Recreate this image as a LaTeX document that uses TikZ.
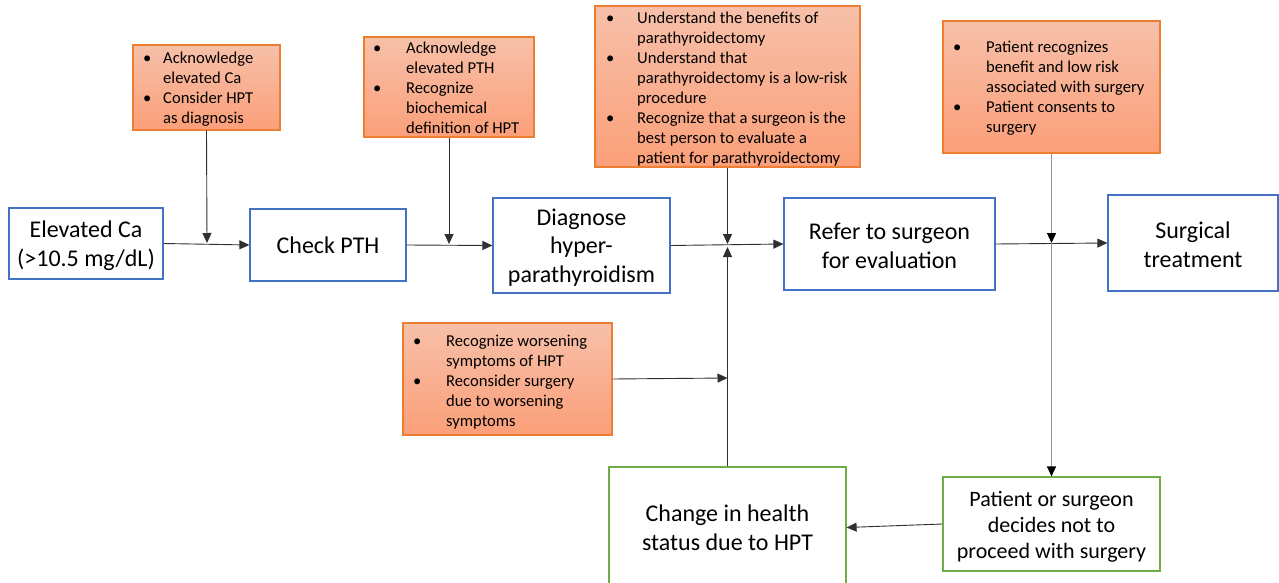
\documentclass[tikz,border=0pt]{standalone}
\usepackage{fontspec}
\setmainfont{Carlito}
\usetikzlibrary{arrows.meta}
\definecolor{bbox}{HTML}{4472C4}
\definecolor{gbox}{HTML}{70AD47}
\definecolor{obox}{HTML}{ED7D31}
\definecolor{otop}{HTML}{F7C0A9}
\definecolor{obot}{HTML}{FB9F79}
\definecolor{ln}{HTML}{303030}
\definecolor{lng}{HTML}{959595}
\tikzset{
  bluebox/.style={draw=bbox, line width=1.2pt, fill=white, inner sep=0pt},
  greenbox/.style={draw=gbox, line width=1.2pt, fill=white, inner sep=0pt},
  btext/.style={inner sep=0pt, align=center, font=\fontsize{24}{28.5}\selectfont},
  orangebox/.style={draw=obox, line width=1.2pt, top color=otop, bottom color=obot, inner sep=0pt},
  otext/.style={anchor=north west, inner sep=0pt, font=\fontsize{16.6}{20.1}\selectfont},
  arr/.style={draw=ln, line width=0.9pt, -{Triangle[length=10pt,width=9pt]}},
  arrg/.style={draw=lng, line width=1.4pt, -{Triangle[length=10pt,width=9pt,color=black]}},
}
\begin{document}
\begin{tikzpicture}[x=1pt,y=-1pt]
\fill[white] (0,0) rectangle (1279,583);
\useasboundingbox (0,0) rectangle (1279,583);

% orange boxes
\node[orangebox, minimum width=147pt, minimum height=85pt] (o1) at (206.5,87.5) {};
\node[otext] (o1t) at (143,48.9) {\begin{tabular}{@{}p{20pt}@{}l@{}}
• & Acknowledge\\ & elevated Ca\\ • & Consider HPT\\ & as diagnosis\end{tabular}};

\node[orangebox, minimum width=170pt, minimum height=100pt] (o2) at (449,87) {};
\node[otext] (o2t) at (373,38.9) {\begin{tabular}{@{}p{33pt}@{}l@{}}
• & Acknowledge\\ & elevated PTH\\ • & Recognize\\ & biochemical\\ & definition of HPT\end{tabular}};

\node[orangebox, minimum width=265pt, minimum height=161pt] (o3) at (727.5,86.5) {};
\node[otext] (o3t) at (606,8.9) {\begin{tabular}{@{}p{31pt}@{}l@{}}
• & Understand the benefits of\\ & parathyroidectomy\\ • & Understand that\\ & parathyroidectomy is a low-risk\\ & procedure\\ • & Recognize that a surgeon is the\\ & best person to evaluate a\\ & patient for parathyroidectomy\end{tabular}};

\node[orangebox, minimum width=217pt, minimum height=132pt] (o4) at (1051.5,87) {};
\node[otext] (o4t) at (953,37.9) {\begin{tabular}{@{}p{33pt}@{}l@{}}
• & Patient recognizes\\ & benefit and low risk\\ & associated with surgery\\ • & Patient consents to\\ & surgery\end{tabular}};

\node[orangebox, minimum width=209pt, minimum height=112pt] (o5) at (507.5,379) {};
\node[otext] (o5t) at (413,331.9) {\begin{tabular}{@{}p{33pt}@{}l@{}}
• & Recognize worsening\\ & symptoms of HPT\\ • & Reconsider surgery\\ & due to worsening\\ & symptoms\end{tabular}};

% blue boxes
\node[bluebox, minimum width=154pt, minimum height=71pt] (ca) at (86,243.5) {};
\node[btext] (cat) at (86,245.5) {Elevated Ca\\(>10.5 mg/dL)};
\node[bluebox, minimum width=156pt, minimum height=72pt] (pth) at (328,245) {};
\node[btext] (ptht) at (328,245) {Check PTH};
\node[bluebox, minimum width=177pt, minimum height=95pt] (dx) at (581.5,245.5) {};
\node[btext] (dxt) at (581.5,247.5) {Diagnose\\hyper-\\parathyroidism};
\node[bluebox, minimum width=211pt, minimum height=92pt] (ref) at (889.5,244) {};
\node[btext] (reft) at (889.5,246) {Refer to surgeon\\for evaluation};
\node[bluebox, minimum width=170pt, minimum height=96pt] (surg) at (1193,243) {};
\node[btext] (surgt) at (1193,245) {Surgical\\treatment};

% green boxes
\node[greenbox, minimum width=237pt, minimum height=121pt] (ch) at (727.5,527.5) {};
\node[btext, font=\fontsize{24}{29}\selectfont] (cht) at (727.5,527.5) {Change in health\\status due to HPT};
\node[greenbox, minimum width=217pt, minimum height=94pt] (pat) at (1051.5,524) {};
\node[btext, font=\fontsize{22}{26}\selectfont] (patt) at (1051.5,527) {Patient or surgeon\\decides not to\\proceed with surgery};

% junction points
\coordinate (j1) at (207,243);
\coordinate (j2) at (449,244);
\coordinate (j3) at (727.5,244);
\coordinate (j3b) at (727.5,247);
\coordinate (j5) at (727.5,378);
\coordinate (j4) at (1051.5,243);

% connectors
\draw[arr] (ca.east) -- (pth.west);
\draw[arr] (o1.south) -- (j1);
\draw[arr] (pth.east) -- (dx.west);
\draw[arr] (o2.south) -- (j2);
\draw[arr] (dx.east) -- (ref.west);
\draw[arr] (o3.south) -- (j3);
\draw[arr] (ch.north) -- (j3b);
\draw[arr] (o5.east) -- (j5);
\draw[arr] (ref.east) -- (surg.west);
\draw[arrg] (o4.south) -- (j4);
\draw[arrg] (j4) -- (pat.north);
\draw[arr] (pat.west) -- (ch.east);
\end{tikzpicture}
\end{document}
